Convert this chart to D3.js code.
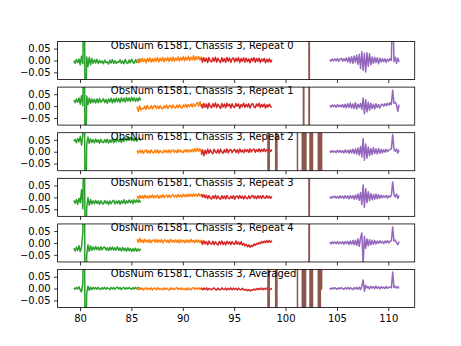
<!DOCTYPE html>
<html><head><meta charset="utf-8">
<script src="https://cdn.jsdelivr.net/npm/d3@7"></script>
<style>body{margin:0;background:#fff}</style>
</head><body><div id="chart"></div>
<script>
// ---- data (signal values in units of 1e-3) ----
const panelTitles = ["ObsNum 61581, Chassis 3, Repeat 0","ObsNum 61581, Chassis 3, Repeat 1","ObsNum 61581, Chassis 3, Repeat 2","ObsNum 61581, Chassis 3, Repeat 3","ObsNum 61581, Chassis 3, Repeat 4","ObsNum 61581, Chassis 3, Averaged"];
const xTicks = [80,85,90,95,100,105,110];
const yTicks = [-50,0,50];
const yTickLabels = ["\u22120.05","0.00","0.05"];
const titleX = 83;
const sampleStep = 0.125;
const segmentStart = {green:79.4, orange:85.55, red:91.8, purple:104.3};

const green0 = [-1,-12,4,-9,6,-18,18,-14,400,-400,15,-25,14,-18,8,-12,3,-11,5,-13,0,-10,-2,-14,2,-9,-6,-15,1,-11,4,-12,-1,-13,-5,-8,3,-12,-2,-14,4,-9,-13,2,-10,5,-7,-12,3,-8,4,-6,2];
const green1 = [25,14,30,16,34,8,44,2,400,-400,42,6,34,12,30,15,29,13,30,14,32,16,22,31,15,28,12,30,17,33,14,31,16,34,18,32,15,35,19,33,17,36,21,34,19,37,22,35,20,33,21,36,23];
const green2 = [44,52,38,56,42,64,28,68,400,-400,32,62,35,54,39,51,37,53,40,50,36,52,41,38,51,39,53,37,50,40,54,38,51,41,55,42,52,39,56,43,59,46,62,48,60,47,58,45,56,44,54,57,46];
const green3 = [-13,-25,-9,-29,-5,-22,32,-48,400,-400,-42,-2,-33,-9,-28,-14,-27,-13,-26,-15,-29,-14,-25,-28,-13,-26,-16,-30,-15,-27,-17,-12,-28,-16,-26,-13,-29,-15,-25,-10,-27,-14,-24,-11,-23,-12,-26,-10,-22,-11,-21,-12,-22];
const green4 = [-22,-34,-18,-32,-12,-36,-17,45,400,-400,-52,-8,-35,-12,-31,-17,-29,-15,-28,-18,-31,-16,-29,-19,-17,-30,-20,-33,-18,-29,-17,-31,-20,-30,-16,-31,-21,-34,-19,-32,-22,-35,-20,-33,-23,-36,-24,-34,-22,-35,-25,-33,-24];
const green5 = [3,-3,5,-2,7,-5,-14,22,400,-400,-20,10,-7,6,-4,5,-2,4,-3,5,-1,-4,4,-2,5,-3,4,-1,-4,5,-2,4,-3,3,6,-2,4,-4,3,5,-3,4,-2,5,-1,-3,4,-2,5,-1,4,-2,3];

const orange0 = [3,-9,7,-6,9,-5,6,-10,8,-4,11,-7,7,-5,10,-3,12,-6,9,-2,13,-5,10,-1,12,-4,11,-2,14,-3,10,0,15,-2,12,1,16,-1,13,2,18,0,14,3,20,1,16,4,17,2,14,5];
const orange1 = [-2,-22,1,-16,-9,-12,0,-13,3,-11,-10,2,-12,-1,3,-10,0,-11,2,-9,-12,1,-8,4,-10,0,3,-9,5,-6,-8,4,-7,6,-5,-8,5,-3,8,-6,6,-2,9,-4,10,-1,7,15,0,18,-1,10];
const orange2 = [5,-6,7,-4,6,-7,3,8,-5,5,-6,7,-3,-5,6,-4,8,-6,5,-2,-5,7,-3,6,-4,8,-5,5,7,-3,6,-4,9,-2,7,-1,-3,8,-1,9,-2,7,0,10,-1,13,1,15,2,12,0,9];
const orange3 = [5,-6,8,-3,7,-5,9,-2,6,-4,8,-1,10,-3,7,0,9,-4,8,-1,11,-2,7,9,0,10,-1,8,11,1,9,0,12,2,10,1,13,3,11,2,14,4,12,3,15,5,13,4,16,6,11,13];
const orange4 = [16,2,20,4,13,1,15,4,12,2,14,1,11,13,3,15,2,12,4,14,0,11,13,3,12,1,15,4,11,2,13,3,12,0,14,4,11,1,13,3,12,2,15,4,11,1,13,3,12,2,11,5];
const orange5 = [2,-5,3,-4,2,-6,1,3,-5,2,-4,3,-6,1,2,-5,4,-4,1,-2,-5,3,-4,2,-3,-6,3,-4,2,-5,1,4,-4,2,-5,3,-3,-4,2,-6,3,-3,-5,2,4,-4,2,-3,3,-4,2,-3];

const red0 = [9,-7,12,-4,10,-9,13,-2,-6,11,-3,14,-7,9,-1,-9,12,-4,8,-8,13,-3,10,-8,7,11,-6,9,-3,12,-9,8,-4,11,-7,10,-5,7,-10,9,-2,12,-8,8,-4,10,-9,6,-3,9,-10,5,-6,7,-7,3];
const red1 = [7,-8,11,-5,9,-9,12,-2,-7,10,-3,13,-6,8,-1,-10,11,-4,9,-7,12,0,8,-8,10,-3,-6,11,-1,9,-9,7,-2,12,-5,8,-4,10,-8,6,11,-3,-7,9,-1,12,-6,7,-3,9,-8,6,-4,8,-2,-5];
const red2 = [-13,8,-17,6,-9,10,-6,8,-3,-8,10,-1,-5,9,-7,11,-2,-6,8,-3,12,-5,7,9,-4,6,10,-3,8,-6,11,-1,7,-4,10,0,9,-3,12,-1,8,11,-2,9,0,12,-1,10,1,13,0,9,2,11,1,8];
const red3 = [13,1,11,-2,9,-5,8,-3,-7,6,-4,9,-6,5,-3,-8,7,-5,6,-7,8,-3,-6,5,-4,7,-8,4,6,-5,8,-4,5,-7,6,-3,-6,7,-5,4,8,-4,5,-6,7,-3,6,-5,8,-2,-4,7,-3,5,-4,4];
const red4 = [7,-6,9,-4,6,-8,8,-3,-5,7,-7,5,-3,-9,6,-5,8,-6,4,-8,7,-4,5,-7,6,-3,-6,8,-5,4,-7,5,-9,-2,-12,-6,-16,-8,-18,-10,-15,-5,-10,-2,-6,2,-3,6,0,8,1,10,2,11,3,9];
const red5 = [1,-5,2,-4,3,-6,1,-2,-5,0,3,-4,-6,2,-4,-5,3,-3,-4,2,-6,1,-4,3,-5,2,-4,1,-6,2,-4,-5,1,-4,-7,-3,-9,-4,-10,-5,-7,-2,-6,0,-5,1,-4,2,-5,1,-4,2,-3,0,-4,1];

const purple0 = [4,-3,6,-2,7,-1,8,-4,6,9,-3,7,-2,11,-6,13,-10,16,-12,19,-8,22,-16,26,-34,38,-42,30,-48,33,-25,28,-18,15,-12,14,-9,12,-14,9,-6,8,-5,7,-9,6,-3,8,0,300,-5,14,-12,10,-6];
const purple1 = [3,-4,5,-2,4,-5,6,-3,4,-4,7,-6,8,-7,10,-5,12,-8,9,-10,14,-12,8,-6,11,-14,34,-32,27,-24,16,-17,12,-10,8,-12,10,-6,7,-8,5,8,0,10,2,12,4,14,7,67,12,16,6,-22,6];
const purple2 = [4,-3,5,-2,3,-4,6,-2,5,-3,4,-5,7,-4,6,-6,8,-5,10,-8,12,-10,16,-14,22,-22,56,-36,32,-27,20,-16,14,-12,17,-8,12,-10,14,-7,10,-5,8,-2,11,0,7,10,12,72,10,1,12,-6,8];
const purple3 = [3,-4,4,-2,5,-3,4,-4,6,-2,5,-5,7,-3,6,-6,8,-4,7,-8,10,-7,14,-12,20,-30,52,-42,37,-22,24,-14,16,-10,12,-8,14,-6,11,-4,9,-2,7,0,8,-3,6,1,10,65,12,2,14,-5,7];
const purple4 = [3,-4,5,-2,4,-3,6,-4,4,-2,5,-5,6,-3,7,-6,8,-5,10,-8,12,-10,17,-14,22,42,-92,27,-22,17,-12,14,-8,11,-6,10,-4,8,-2,9,0,7,-3,8,1,10,0,7,9,67,8,12,1,-7,6];
const purple5 = [2,-3,3,-2,4,-1,-3,3,-2,4,-1,-3,3,-2,5,-3,4,-1,-4,4,-2,5,-3,6,-4,10,36,-11,14,3,8,-2,10,2,8,0,10,1,7,-1,8,2,6,0,9,1,5,7,3,70,4,10,2,8,1];

// brown: [x, value] samples, null = gap
const brown0 = [[102.26,900],[102.30,-900],[102.34,900]];
const brown1 = [[101.72,900],[101.76,-900],[101.80,900],null,[102.26,900],[102.30,-900],[102.34,900]];
const brown2 = [[98.27,900],[98.31,-900],[98.35,900],[98.39,-900],[98.43,900],null,
  [99.02,900],[99.06,-900],[99.10,900],[99.14,-900],[99.18,900],null,
  [101.14,900],[101.18,-900],null,
  [101.61,900],[101.65,-900],[101.69,900],[101.73,-900],[101.77,900],[101.81,-900],[101.85,900],[101.89,-900],[101.93,900],[101.97,-900],[102.00,900],null,
  [102.36,900],[102.40,-900],[102.44,900],[102.48,-900],[102.52,900],[102.56,-900],[102.60,900],[102.64,-900],null,
  [103.17,900],[103.21,-900],[103.25,900],[103.29,-900],[103.33,900],[103.37,-900],[103.41,900],[103.45,-900],[103.49,900],[103.53,-900]];
const brown3 = [[102.26,900],[102.30,-900],[102.34,900]];
const brown4 = [[102.26,900],[102.30,-900],[102.34,900]];
const brown5 = [[98.27,900],[98.31,-900],[98.35,900],[98.39,-900],[98.43,900],null,
  [99.02,900],[99.06,-900],[99.10,900],[99.14,-900],[99.18,900],null,
  [101.14,900],[101.18,-900],null,
  [101.61,900],[101.65,-900],[101.69,900],[101.73,-900],[101.77,900],[101.81,-900],[101.85,900],[101.89,-900],[101.93,900],[101.97,-900],null,
  [102.36,900],[102.40,-900],[102.44,900],[102.48,-900],[102.52,900],[102.56,-900],[102.60,900],[102.64,-900],null,
  [103.17,900],[103.21,-900],[103.25,900],[103.29,-900],[103.33,900],[103.37,-900],[103.41,900],null,
  [103.47,900],[103.51,-2],[103.55,900]];

const greenSeries = [green0,green1,green2,green3,green4,green5];
const orangeSeries = [orange0,orange1,orange2,orange3,orange4,orange5];
const redSeries = [red0,red1,red2,red3,red4,red5];
const purpleSeries = [purple0,purple1,purple2,purple3,purple4,purple5];
const brownSeries = [brown0,brown1,brown2,brown3,brown4,brown5];
const colors = {green:"#2ca02c", orange:"#ff7f0e", red:"#d62728", brown:"#8c564b", purple:"#9467bd"};

// ---- layout ----
const W = 461, H = 346;
const left = 57.6, right = 414.72, figTop = 41.47, figBottom = 307.58;
const nP = 6, hspace = 0.2;
const ph = (figBottom - figTop) / (nP + (nP - 1) * hspace);
const gap = ph * hspace;

const svg = d3.select("#chart").append("svg")
  .attr("width", W).attr("height", H)
  .style("font-family", "'DejaVu Sans', sans-serif");
svg.append("rect").attr("width", W).attr("height", H).attr("fill", "#fff");

const x = d3.scaleLinear().domain([77.82, 112.57]).range([left, right]);

const toPts = (vals, start) => vals.map((v, i) => [start + i * sampleStep, v]);

for (let k = 0; k < nP; k++) {
  const top = figTop + k * (ph + gap);
  const y = d3.scaleLinear().domain([-80, 80]).range([top + ph, top]);
  const g = svg.append("g");
  const clipId = "clip" + k;
  svg.append("clipPath").attr("id", clipId).append("rect")
    .attr("x", left).attr("y", top).attr("width", right - left).attr("height", ph);

  const line = d3.line().defined(d => d !== null).x(d => x(d[0])).y(d => y(d[1]));
  const plot = g.append("g").attr("clip-path", `url(#${clipId})`);
  const draw = (pts, color) => plot.append("path").attr("d", line(pts))
    .attr("fill", "none").attr("stroke", color).attr("stroke-width", 1.5)
    .attr("stroke-linejoin", "round");

  draw(toPts(greenSeries[k], segmentStart.green), colors.green);
  draw(toPts(orangeSeries[k], segmentStart.orange), colors.orange);
  draw(toPts(redSeries[k], segmentStart.red), colors.red);
  draw(brownSeries[k], colors.brown);
  draw(toPts(purpleSeries[k], segmentStart.purple), colors.purple);

  const ya = g.append("g").attr("transform", `translate(${left},0)`)
    .call(d3.axisLeft(y).tickValues(yTicks).tickFormat((d, i) => yTickLabels[i]).tickSize(3.5).tickPadding(3.5));
  const xa = g.append("g").attr("transform", `translate(0,${top + ph})`)
    .call(d3.axisBottom(x).tickValues(xTicks).tickFormat(k === nP - 1 ? d3.format("d") : () => "").tickSize(3.5).tickPadding(3.5));
  [ya, xa].forEach(a => {
    a.select(".domain").remove();
    a.selectAll("line").attr("stroke", "#000").attr("stroke-width", 0.8);
    a.selectAll("text").attr("fill", "#000").style("font-size", "10px").style("font-family", "'DejaVu Sans', sans-serif");
  });

  g.append("rect").attr("x", left).attr("y", top).attr("width", right - left).attr("height", ph)
    .attr("fill", "none").attr("stroke", "#000").attr("stroke-width", 0.8);

  g.append("text").attr("x", x(titleX)).attr("y", top + 7.4)
    .attr("fill", "#000").style("font-size", "10px").text(panelTitles[k]);
}
</script>
</body></html>
